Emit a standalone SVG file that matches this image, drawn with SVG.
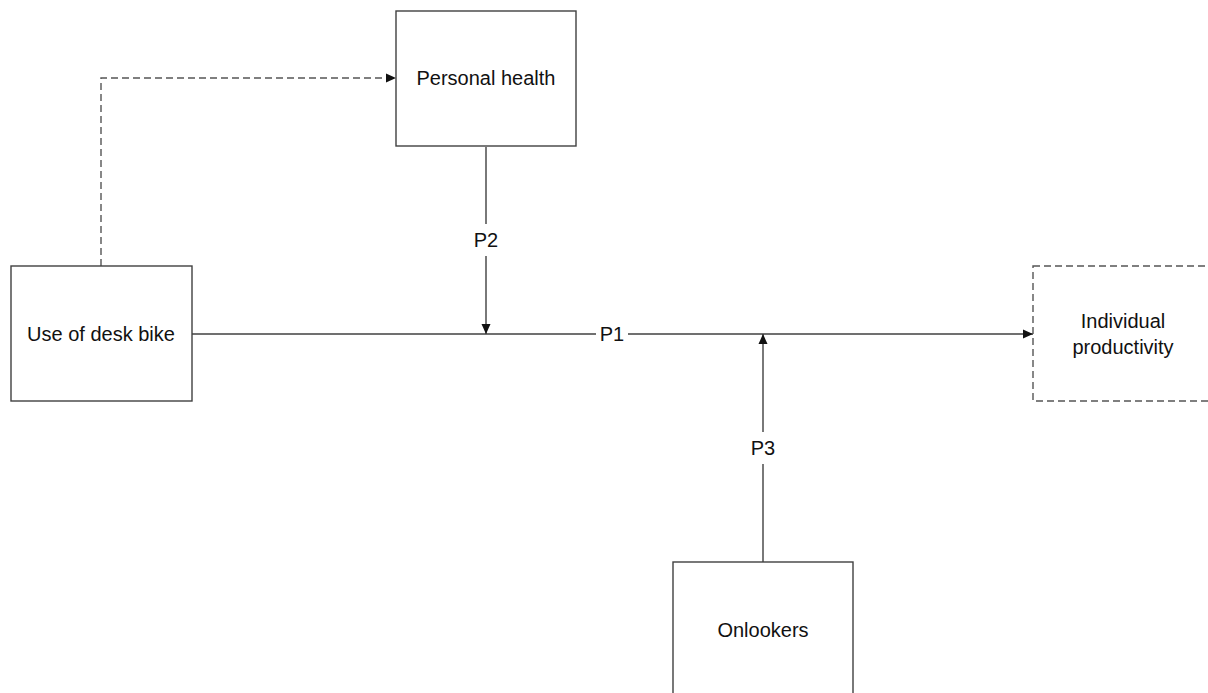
<svg xmlns="http://www.w3.org/2000/svg" width="1208" height="693" viewBox="0 0 1208 693">
<style>
.box{fill:#fff;stroke:#404040;stroke-width:1.4}
.dbox{fill:#fff;stroke:#555;stroke-width:1.4;stroke-dasharray:7,4}
.ln{fill:none;stroke:#404040;stroke-width:1.4}
.dln{fill:none;stroke:#555;stroke-width:1.4;stroke-dasharray:7,4}
text{font-family:"Liberation Sans",Arial,sans-serif;font-size:20px;fill:#111;text-anchor:middle;dominant-baseline:central}
.lbl{fill:#fff;stroke:none}
</style>
<defs>
<marker id="arr" viewBox="0 0 10 10" refX="10" refY="5" markerWidth="10" markerHeight="10" markerUnits="userSpaceOnUse" orient="auto">
<path d="M0,0.5 L10,5 L0,9.5 Z" fill="#111"/>
</marker>
</defs>
<rect width="1208" height="693" fill="#fff"/>
<g id="connectors">
<path class="dln" d="M101,266 L101,78 L396,78" marker-end="url(#arr)"/>
<path class="ln" d="M192,334 L1033,334" marker-end="url(#arr)"/>
<path class="ln" d="M486,147 L486,334" marker-end="url(#arr)"/>
<path class="ln" d="M763,562 L763,334" marker-end="url(#arr)"/>
<rect class="lbl" x="596" y="325" width="32" height="18"/>
<text x="612" y="334">P1</text>
<rect class="lbl" x="471" y="224" width="30" height="32"/>
<text x="486" y="240">P2</text>
<rect class="lbl" x="748" y="432" width="30" height="32"/>
<text x="763" y="448">P3</text>
</g>
<g id="personal-health">
<rect class="box" x="396" y="11" width="180" height="135"/>
<text x="486" y="78">Personal health</text>
</g>
<g id="desk-bike">
<rect class="box" x="11" y="266" width="181" height="135"/>
<text x="101" y="334">Use of desk bike</text>
</g>
<g id="individual-productivity">
<rect class="dbox" x="1033" y="266" width="185" height="135"/>
<text x="1123" y="321">Individual</text>
<text x="1123" y="347">productivity</text>
</g>
<g id="onlookers">
<rect class="box" x="673" y="562" width="180" height="140"/>
<text x="763" y="630">Onlookers</text>
</g>
</svg>
